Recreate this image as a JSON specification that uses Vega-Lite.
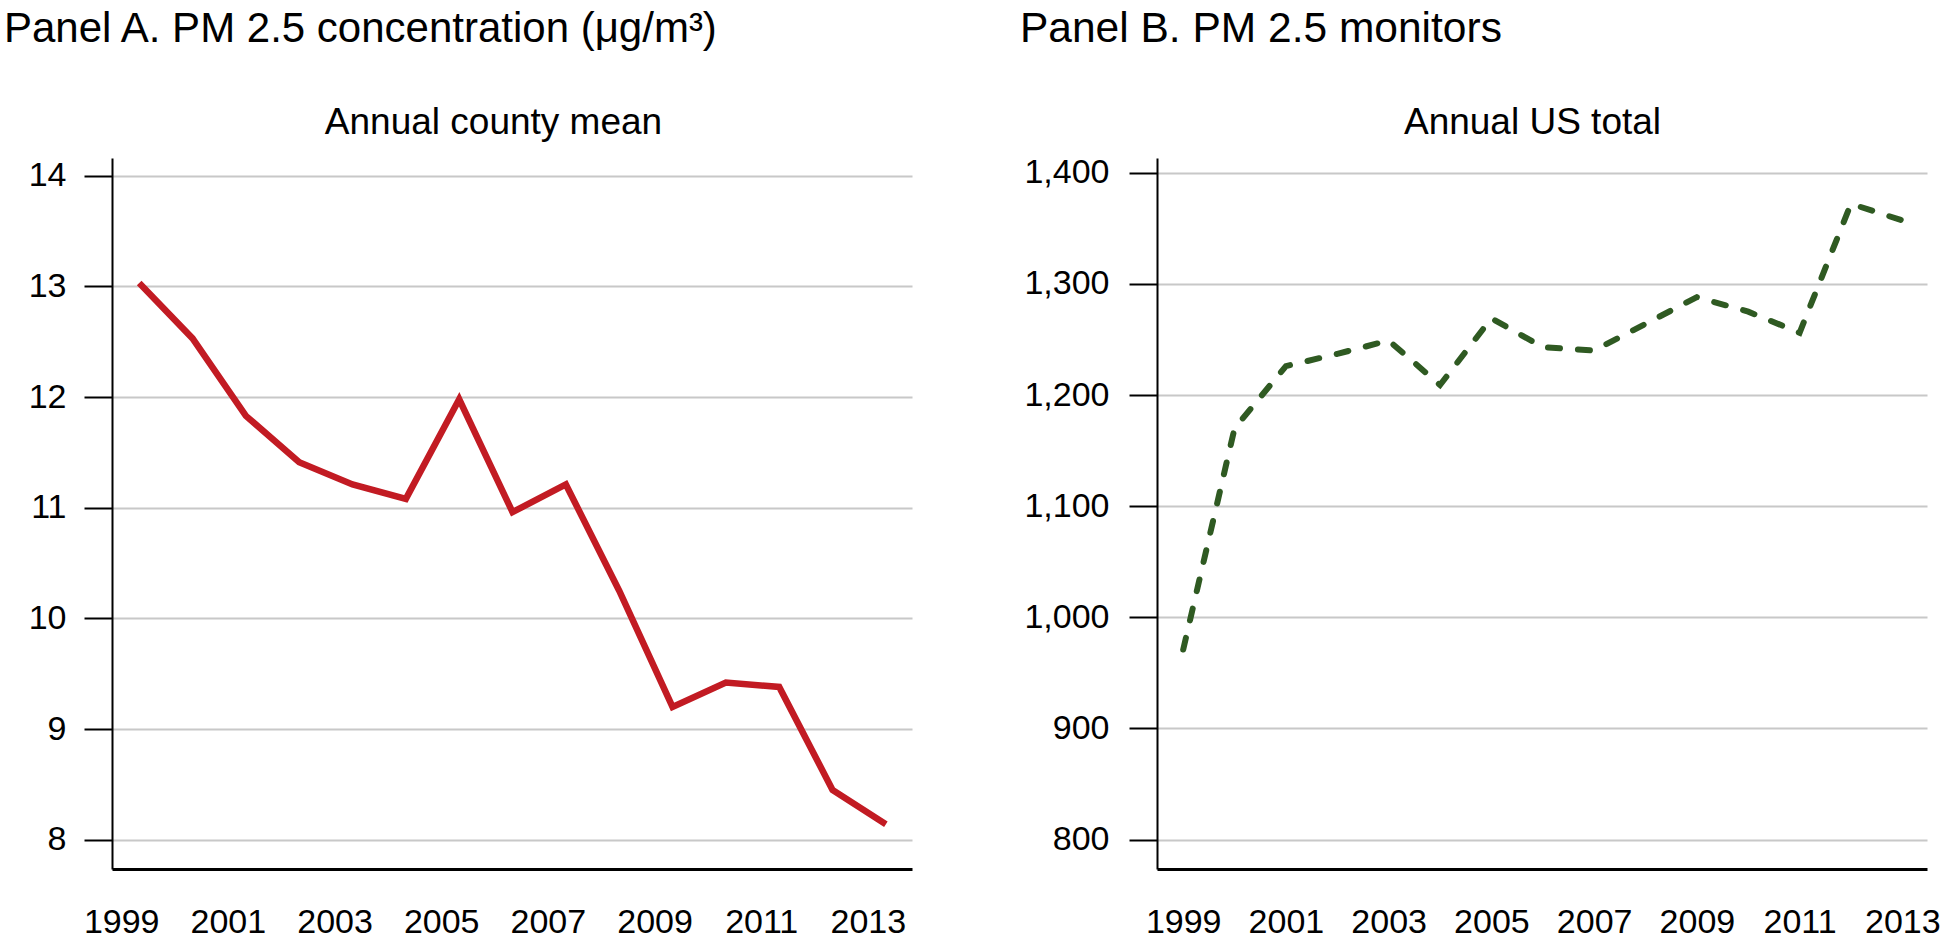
{
  "$schema": "https://vega.github.io/schema/vega-lite/v6.json",
  "background": "white",
  "padding": {"left": 4, "top": 7, "right": 0, "bottom": 0},
  "autosize": {"type": "pad"},
  "spacing": 108,
  "align": "none",
  "bounds": "full",
  "config": {
    "view": {"stroke": null},
    "font": "Liberation Sans",
    "axis": {"labelFont": "Liberation Sans", "titleFont": "Liberation Sans", "labelColor": "black", "titleColor": "black", "titleFontWeight": "normal"},
    "title": {"font": "Liberation Sans", "fontWeight": "normal", "color": "black"}
  },
  "hconcat": [
    {
      "width": 800,
      "height": 711,
      "title": {"text": "Panel A. PM 2.5 concentration (μg/m³)", "anchor": "start", "frame": "group", "dx": -108, "fontSize": 42, "baseline": "alphabetic", "offset": 19},
      "data": {"values": [
        {"year": 1999, "pm": 13.03},
        {"year": 2000, "pm": 12.53},
        {"year": 2001, "pm": 11.83},
        {"year": 2002, "pm": 11.41},
        {"year": 2003, "pm": 11.21},
        {"year": 2004, "pm": 11.08},
        {"year": 2005, "pm": 11.98},
        {"year": 2006, "pm": 10.96},
        {"year": 2007, "pm": 11.21},
        {"year": 2008, "pm": 10.25},
        {"year": 2009, "pm": 9.2},
        {"year": 2010, "pm": 9.42},
        {"year": 2011, "pm": 9.38},
        {"year": 2012, "pm": 8.45},
        {"year": 2013, "pm": 8.14}
      ]},
      "layer": [
        {
          "mark": {"type": "line", "color": "#C21B23", "strokeWidth": 6.5},
          "encoding": {
            "x": {"field": "year", "type": "quantitative",
              "scale": {"domain": [1998.49, 2013.49], "nice": false, "zero": false},
              "axis": {"orient": "bottom", "values": [1999, 2001, 2003, 2005, 2007, 2009, 2011, 2013], "format": "d", "title": null, "grid": false, "ticks": false, "domainColor": "black", "domainWidth": 3, "labelFontSize": 34, "labelPadding": 63, "labelBaseline": "alphabetic", "labelOffset": -18, "labelFlush": false, "labelOverlap": false}},
            "y": {"field": "pm", "type": "quantitative",
              "scale": {"domain": [7.735, 14.16], "nice": false, "zero": false},
              "axis": {"values": [8, 9, 10, 11, 12, 13, 14], "format": "d", "title": null, "tickSize": 28, "tickWidth": 2, "tickColor": "black", "domainColor": "black", "domainWidth": 2, "labelFontSize": 34, "labelPadding": 18, "labelOverlap": false, "grid": true, "gridColor": "#c8c8c8", "gridWidth": 2}}
          }
        },
        {
          "mark": {"type": "point", "opacity": 0},
          "encoding": {
            "x": {"field": "year", "type": "quantitative",
              "axis": {"orient": "top", "title": "Annual county mean", "labels": false, "ticks": false, "domain": false, "grid": false, "titleFontSize": 37, "titlePadding": 25, "titleBaseline": "alphabetic", "titleX": 381}}
          }
        }
      ],
      "resolve": {"axis": {"x": "independent"}}
    },
    {
      "width": 770,
      "height": 711,
      "title": {"text": "Panel B. PM 2.5 monitors", "anchor": "start", "frame": "group", "dx": -137, "fontSize": 42.5, "baseline": "alphabetic", "offset": 19},
      "data": {"values": [
        {"year": 1999, "monitors": 971},
        {"year": 2000, "monitors": 1170},
        {"year": 2001, "monitors": 1226},
        {"year": 2002, "monitors": 1237},
        {"year": 2003, "monitors": 1249},
        {"year": 2004, "monitors": 1209},
        {"year": 2005, "monitors": 1269},
        {"year": 2006, "monitors": 1243},
        {"year": 2007, "monitors": 1240},
        {"year": 2008, "monitors": 1264},
        {"year": 2009, "monitors": 1288},
        {"year": 2010, "monitors": 1275},
        {"year": 2011, "monitors": 1256},
        {"year": 2012, "monitors": 1372},
        {"year": 2013, "monitors": 1357}
      ]},
      "layer": [
        {
          "mark": {"type": "line", "color": "#2F5A22", "strokeWidth": 6, "strokeDash": [12, 18], "strokeCap": "round"},
          "encoding": {
            "x": {"field": "year", "type": "quantitative",
              "scale": {"domain": [1998.49, 2013.48], "nice": false, "zero": false},
              "axis": {"orient": "bottom", "values": [1999, 2001, 2003, 2005, 2007, 2009, 2011, 2013], "format": "d", "title": null, "grid": false, "ticks": false, "domainColor": "black", "domainWidth": 3, "labelFontSize": 34, "labelPadding": 63, "labelBaseline": "alphabetic", "labelFlush": false, "labelOverlap": false}},
            "y": {"field": "monitors", "type": "quantitative",
              "scale": {"domain": [773.6, 1413.2], "nice": false, "zero": false},
              "axis": {"values": [800, 900, 1000, 1100, 1200, 1300, 1400], "format": ",d", "title": null, "tickSize": 28, "tickWidth": 2, "tickColor": "black", "domainColor": "black", "domainWidth": 2, "labelFontSize": 34, "labelPadding": 20, "labelOverlap": false, "grid": true, "gridColor": "#c8c8c8", "gridWidth": 2}}
          }
        },
        {
          "mark": {"type": "point", "opacity": 0},
          "encoding": {
            "x": {"field": "year", "type": "quantitative",
              "axis": {"orient": "top", "title": "Annual US total", "labels": false, "ticks": false, "domain": false, "grid": false, "titleFontSize": 37, "titlePadding": 25, "titleBaseline": "alphabetic", "titleX": 375}}
          }
        }
      ],
      "resolve": {"axis": {"x": "independent"}}
    }
  ]
}
